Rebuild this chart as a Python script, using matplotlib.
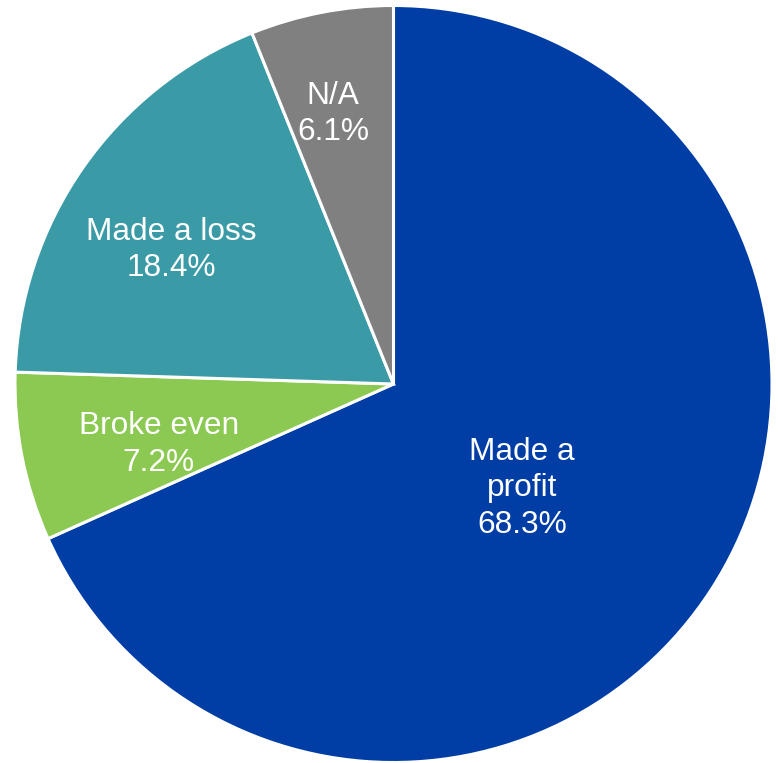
import matplotlib.pyplot as plt

plt.rcParams['font.family'] = ['Liberation Sans', 'DejaVu Sans']

labels = ['Made a\nprofit', 'Broke even', 'Made a loss', 'N/A']
shares = [68.3, 7.2, 18.4, 6.1]
colors = ['#003DA5', '#8BC953', '#3A9BA7', '#808080']
# label centres in pie units (radius 1)
label_pos = [(0.339, -0.276), (-0.620, -0.160), (-0.588, 0.355), (-0.160, 0.714)]

W, H = 778, 763
cx, cy, r = 393.5, 384.0, 378.5

fig = plt.figure(figsize=(W / 100, H / 100), dpi=100)
ax = fig.add_axes([(cx - r) / W, (H - cy - r) / H, 2 * r / W, 2 * r / H])

ax.pie(shares, colors=colors, startangle=90, counterclock=False,
       radius=1.0, wedgeprops=dict(edgecolor='white', linewidth=2.2))

for lab, val, (x, y) in zip(labels, shares, label_pos):
    ax.text(x, y, f'{lab}\n{val:.1f}%', ha='center', va='center',
            color='white', fontsize=22.8, linespacing=1.27)

ax.set_xlim(-1, 1)
ax.set_ylim(-1, 1)
ax.set_aspect('equal')
ax.axis('off')

fig.savefig('out.png', dpi=100)
